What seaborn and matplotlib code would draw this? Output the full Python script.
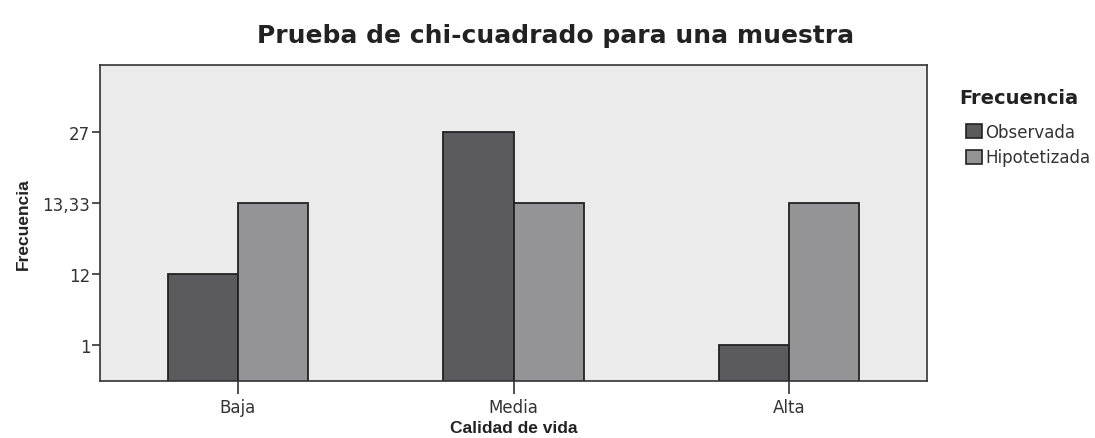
import numpy as np
import pandas as pd
import matplotlib
matplotlib.use("Agg")
import matplotlib.pyplot as plt
import seaborn as sns
from matplotlib.patches import Patch

categories = ["Baja", "Media", "Alta"]
observada = [12, 27, 1]
hipotetizada = [13.33, 13.33, 13.33]
series = ["Observada", "Hipotetizada"]
ytick_vals = [1, 12, 13.33, 27]
ytick_labels = ["1", "12", "13,33", "27"]

df = pd.DataFrame({
    "Calidad de vida": categories * 2,
    "Frecuencia": observada + hipotetizada,
    "Serie": [series[0]] * 3 + [series[1]] * 3,
})

sns.set_style("white")
plt.rcParams["font.family"] = ["DejaVu Sans"]
arial = ["Liberation Sans", "DejaVu Sans"]
pal = ["#5b5b5d", "#949497"]

fig = plt.figure(figsize=(10.95, 4.39), dpi=100)
ax = fig.add_axes([100 / 1095, 1 - 382 / 439, 827 / 1095, 316 / 439])

sns.barplot(data=df, x="Calidad de vida", y="Frecuencia", hue="Serie",
            hue_order=series, palette=pal,
            width=0.51, edgecolor="#222222", linewidth=1.3, saturation=1,
            ax=ax, legend=False)

# ordinal SPSS-like scale: tick values equally spaced
kv = np.array([0.0] + ytick_vals + [40.0])
kp = np.arange(len(kv), dtype=float)
fwd = lambda v: np.interp(v, kv, kp)
inv = lambda p: np.interp(p, kp, kv)
ax.set_yscale("function", functions=(fwd, inv))
ax.set_ylim(inv(0.49), inv(4.94))
ax.set_yticks(ytick_vals)
ax.set_yticklabels(ytick_labels)
ax.minorticks_off()
ax.set_xlim(-0.5, 2.5)

ax.set_facecolor("#ebebeb")
for s in ax.spines.values():
    s.set_visible(True)
    s.set_color("#333333")
    s.set_linewidth(1.2)

ax.tick_params(axis="y", direction="out", length=6, width=1.2, color="#333333",
               labelsize=12, labelcolor="#333333", left=True, pad=1)
ax.tick_params(axis="x", direction="out", length=9, width=1.2, color="#333333",
               labelsize=12, labelcolor="#333333", bottom=True, pad=3)

ax.set_xlabel("Calidad de vida", fontsize=12.5, fontweight="bold", color="#222222",
              labelpad=3, family=arial)
ax.set_ylabel("Frecuencia", fontsize=12.5, fontweight="bold", color="#222222",
              labelpad=8, family=arial)

fig.text(556 / 1095, 1 - 36 / 439, "Prueba de chi-cuadrado para una muestra",
         ha="center", va="center", fontsize=18, fontweight="bold", color="#222222")

# legend
fig.text(1019 / 1095, 1 - 98 / 439, "Frecuencia", ha="center", va="center",
         fontsize=14, fontweight="bold", color="#222222")
handles = [Patch(facecolor=c, edgecolor="#222222", linewidth=1.2) for c in pal]
leg = fig.legend(handles, series, loc="upper left",
                 bbox_to_anchor=(966 / 1095, 1 - 124 / 439),
                 frameon=False, fontsize=12,
                 handlelength=0.95, handleheight=0.95, handletextpad=0.2,
                 labelspacing=0.45, borderaxespad=0, borderpad=0)
for t in leg.get_texts():
    t.set_color("#333333")

fig.savefig("out.png", dpi=100, facecolor="white")
